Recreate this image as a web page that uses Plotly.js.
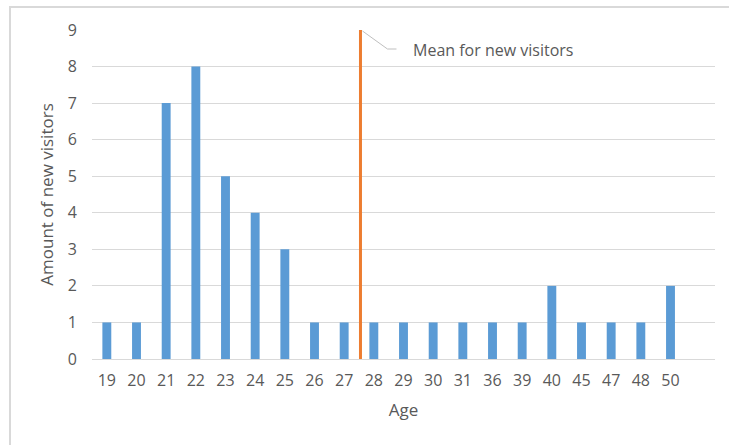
<!DOCTYPE html>
<html>
<head>
<meta charset="utf-8">
<script src="https://cdn.plot.ly/plotly-3.0.1.min.js"></script>
<style>
  html, body { margin: 0; padding: 0; background: #fff; }
  #chart { width: 729px; height: 445px; }
</style>
</head>
<body>
<div id="chart"></div>
<script>
// Age groups of new visitors and how many visitors fall in each
const ages = ['19', '20', '21', '22', '23', '24', '25', '26', '27', '28',
              '29', '30', '31', '36', '39', '40', '45', '47', '48', '50'];
const visitors = [1, 1, 7, 8, 5, 4, 3, 1, 1, 1, 1, 1, 1, 1, 1, 2, 1, 1, 1, 2];

// Where the mean marker sits along the category axis, and its height
const meanPosition = 8.55;
const meanHeight = 9;
const meanLabel = 'Mean for new visitors';

const yTicks = [0, 1, 2, 3, 4, 5, 6, 7, 8, 9];

const idx = ages.map((_, i) => i);
const textGrey = '#595959';
const gridGrey = '#d9d9d9';
const font = 'Open Sans, Noto Sans, sans-serif';

const bars = {
  type: 'bar',
  x: idx,
  y: visitors,
  width: 0.3,
  marker: { color: '#5B9BD5' },
  hoverinfo: 'x+y'
};

const meanLine = {
  type: 'scatter',
  mode: 'lines',
  x: [meanPosition, meanPosition],
  y: [0, meanHeight],
  line: { color: '#ED7D31', width: 3 },
  cliponaxis: false,
  hoverinfo: 'skip'
};

const layout = {
  width: 729,
  height: 445,
  margin: { l: 92, r: 14, t: 30, b: 86 },
  paper_bgcolor: '#fff',
  plot_bgcolor: '#fff',
  showlegend: false,
  font: { family: font, color: textGrey, size: 16 },
  xaxis: {
    range: [-0.5, 20.5],
    tickvals: idx,
    ticktext: ages,
    showgrid: false,
    zeroline: false,
    showline: false,
    ticks: '',
    ticklabelstandoff: 10,
    tickfont: { size: 16, color: textGrey },
    title: { text: 'Age', font: { size: 17, color: textGrey }, standoff: 14 },
    fixedrange: true
  },
  yaxis: {
    range: [0, 9],
    tickvals: yTicks,
    showgrid: true,
    gridcolor: gridGrey,
    gridwidth: 1,
    zeroline: true,
    zerolinecolor: gridGrey,
    zerolinewidth: 1,
    showline: false,
    ticks: '',
    ticklabelstandoff: 14,
    tickfont: { size: 16, color: textGrey },
    title: { text: 'Amount of new visitors', font: { size: 17, color: textGrey }, standoff: 9 },
    fixedrange: true
  },
  shapes: [
    // chart frame
    {
      type: 'rect', xref: 'paper', yref: 'paper',
      x0: -0.1316, x1: 1.1, y0: -0.4, y1: 1.0699,
      line: { color: gridGrey, width: 2 }, fillcolor: 'rgba(0,0,0,0)', layer: 'below'
    },
    // leader from the top of the mean marker to its label
    {
      type: 'path', xref: 'x', yref: 'y',
      xsizemode: 'pixel', ysizemode: 'pixel',
      xanchor: meanPosition, yanchor: meanHeight,
      path: 'M 2 -1 L 27 -19 L 36 -19',
      line: { color: '#bfbfbf', width: 1 }
    }
  ],
  annotations: [
    {
      x: meanPosition, y: meanHeight, xref: 'x', yref: 'y',
      text: meanLabel, showarrow: false,
      xanchor: 'left', yanchor: 'middle',
      xshift: 51, yshift: -20,
      font: { size: 16, color: textGrey, family: font }
    }
  ]
};

Plotly.newPlot('chart', [bars, meanLine], layout, { displayModeBar: false, staticPlot: true });
</script>
</body>
</html>
